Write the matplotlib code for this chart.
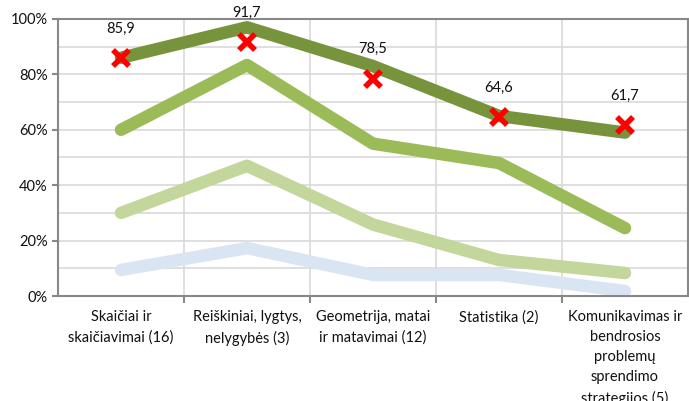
import matplotlib
matplotlib.use("Agg")
import matplotlib.pyplot as plt
from matplotlib.ticker import MultipleLocator, FuncFormatter

plt.rcParams['font.family'] = ['Lato', 'DejaVu Sans']

categories = [
    "Skaičiai ir\nskaičiavimai (16)",
    "Reiškiniai, lygtys,\nnelygybės (3)",
    "Geometrija, matai\nir matavimai (12)",
    "Statistika (2)",
    "Komunikavimas ir\nbendrosios\nproblemų\nsprendimo\nstrategijos (5)",
]

# percentage series
series_blue = [9.4, 17.3, 7.6, 7.6, 1.8]
series_light = [30.0, 47.0, 25.8, 13.0, 8.3]
series_mid = [60.0, 83.4, 55.0, 48.0, 24.5]
series_dark = [86.0, 97.0, 83.0, 65.0, 59.0]
markers_x = [85.9, 91.7, 78.5, 64.6, 61.7]

x = list(range(len(categories)))

fig = plt.figure(figsize=(6.89, 4.01), dpi=100)
ax = fig.add_axes([58 / 689, 105 / 401, 630 / 689, 277 / 401])

lw = 9
ax.plot(x, [v / 100 for v in series_blue], color="#DAE5F4", lw=lw, solid_capstyle="round", zorder=2)
ax.plot(x, [v / 100 for v in series_light], color="#C3D69B", lw=lw, solid_capstyle="round", zorder=3)
ax.plot(x, [v / 100 for v in series_mid], color="#9BBB59", lw=lw, solid_capstyle="round", zorder=4)
ax.plot(x, [v / 100 for v in series_dark], color="#77933C", lw=lw, solid_capstyle="round", zorder=5)
ax.plot(x, [v / 100 for v in markers_x], ls="none", marker="x", color="#FF0000",
        ms=12, mew=4, zorder=6)

for xi, v in zip(x, markers_x):
    ax.annotate(f"{v:.1f}".replace(".", ","), (xi, v / 100), xytext=(0, 21),
                textcoords="offset points", ha="center", va="center",
                fontsize=10.5, color="#111111", zorder=7)

ax.set_xlim(-0.5, len(categories) - 0.5)
ax.set_ylim(0, 1)

ax.set_xticks(x)
ax.set_xticklabels(categories, fontsize=10.5, linespacing=1.55, va="top", color="#111111")
ax.set_xticks([i + 0.5 for i in range(len(categories) - 1)], minor=True)
ax.tick_params(axis="x", which="major", length=0, pad=10)
ax.tick_params(axis="x", which="minor", length=5, width=1.5, color="#888888")

ax.yaxis.set_major_locator(MultipleLocator(0.2))
ax.yaxis.set_minor_locator(MultipleLocator(0.1))
ax.yaxis.set_major_formatter(FuncFormatter(lambda v, p: f"{v * 100:.0f}%"))
ax.tick_params(axis="y", which="major", length=4, width=1.5, color="#888888",
               labelsize=10.5, labelcolor="#111111")
ax.tick_params(axis="y", which="minor", length=0)

ax.grid(True, which="both", axis="y", color="#D9D9D9", lw=1.2, zorder=0)
ax.grid(True, which="minor", axis="x", color="#D9D9D9", lw=1.2, zorder=0)
ax.set_axisbelow(True)

for s in ax.spines.values():
    s.set_color("#888888")
    s.set_linewidth(1.5)

fig.savefig("out.png", dpi=100)
